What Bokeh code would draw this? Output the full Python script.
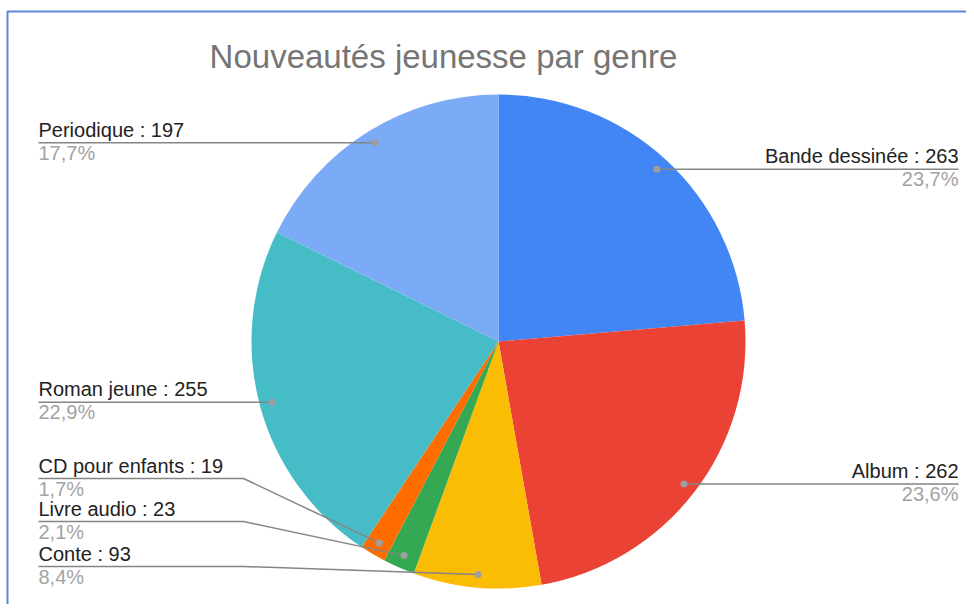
import math
from bokeh.plotting import figure
from bokeh.models import Range1d, ColumnDataSource
from bokeh.core.properties import value
from bokeh.embed import file_html
from bokeh.resources import INLINE

# ---- data ----
title = "Nouveautés jeunesse par genre"
categories = ["Bande dessinée", "Album", "Conte", "Livre audio", "CD pour enfants", "Roman jeune", "Periodique"]
counts = [263, 262, 93, 23, 19, 255, 197]
colors = ["#4285F4", "#EA4335", "#FBBC04", "#34A853", "#FF6D01", "#46BDC6", "#7BAAF7"]

# ---- layout (px, from the top-left of the picture) ----
label_side = ["right", "right", "left", "left", "left", "left", "left"]
label_line_y = [None, None, 566, 521, 478, None, None]  # None -> same height as the dot
CX, CY, R, RD = 498, 341, 247, 234
X_LEFT, X_RIGHT, X_ELBOW = 38, 958, 243
TXT_DY = 8  # compensation for text baseline rendering
FONT = value("Liberation Sans")

W, H = 966, 604


def sy(y):
    return H - y


p = figure(width=W, height=H, x_range=Range1d(0, W), y_range=Range1d(0, H),
           output_backend="svg", toolbar_location=None, min_border=0,
           outline_line_color=None, background_fill_color="white")
p.axis.visible = False
p.grid.visible = False

total = sum(counts)
starts, ends, mids = [], [], []
cum = 0
for v in counts:
    starts.append(math.pi / 2 - 2 * math.pi * cum / total)
    mids.append(math.pi / 2 - 2 * math.pi * (cum + v / 2) / total)
    cum += v
    ends.append(math.pi / 2 - 2 * math.pi * cum / total)

src = ColumnDataSource(dict(start=starts, end=ends, color=colors))
p.wedge(x=CX, y=sy(CY), radius=R, start_angle="start", end_angle="end",
        direction="clock", fill_color="color", line_color=None, source=src)

dot_x = [CX + RD * math.cos(m) for m in mids]
dot_y = [sy(CY) + RD * math.sin(m) for m in mids]

xs, ys = [], []
name_x, name_y, name_align, pct_y, names, pcts = [], [], [], [], [], []
for i, cat in enumerate(categories):
    if label_side[i] == "right":
        ly = dot_y[i]
        xs.append([dot_x[i], X_RIGHT]); ys.append([ly, ly])
        name_x.append(X_RIGHT); name_align.append("right")
    else:
        if label_line_y[i] is None:
            ly = dot_y[i]
            xs.append([X_LEFT, dot_x[i]]); ys.append([ly, ly])
        else:
            ly = sy(label_line_y[i])
            xs.append([X_LEFT, X_ELBOW, dot_x[i]]); ys.append([ly, ly, dot_y[i]])
        name_x.append(X_LEFT); name_align.append("left")
    name_y.append(ly + 5 + TXT_DY)
    pct_y.append(ly - 18 + TXT_DY)
    names.append(f"{cat} : {counts[i]}")
    pcts.append(f"{counts[i] / total * 100:.1f}".replace(".", ",") + "%")

p.multi_line(xs=xs, ys=ys, line_color="#858585", line_width=1.5)
p.scatter(x=dot_x, y=dot_y, size=7, fill_color="#9e9e9e", line_color=None)

tsrc = ColumnDataSource(dict(x=name_x, y=name_y, py=pct_y, align=name_align, name=names, pct=pcts))
p.text(x="x", y="y", text="name", text_align="align", text_baseline="alphabetic",
       text_font=FONT, text_font_size="20px", text_color="#222222", source=tsrc)
p.text(x="x", y="py", text="pct", text_align="align", text_baseline="alphabetic",
       text_font=FONT, text_font_size="20px", text_color="#a3a3a3", source=tsrc)

# title
p.text(x=[443], y=[sy(64) + TXT_DY], text=[title], text_align="center", text_baseline="alphabetic",
       text_font=FONT, text_font_size="33px", text_color="#757575")

# frame border (top and left visible)
p.line(x=[7, 7, W], y=[0, sy(11), sy(11)], line_color="#5a87d8", line_width=2)

open("out.html", "w").write(file_html(p, INLINE))
